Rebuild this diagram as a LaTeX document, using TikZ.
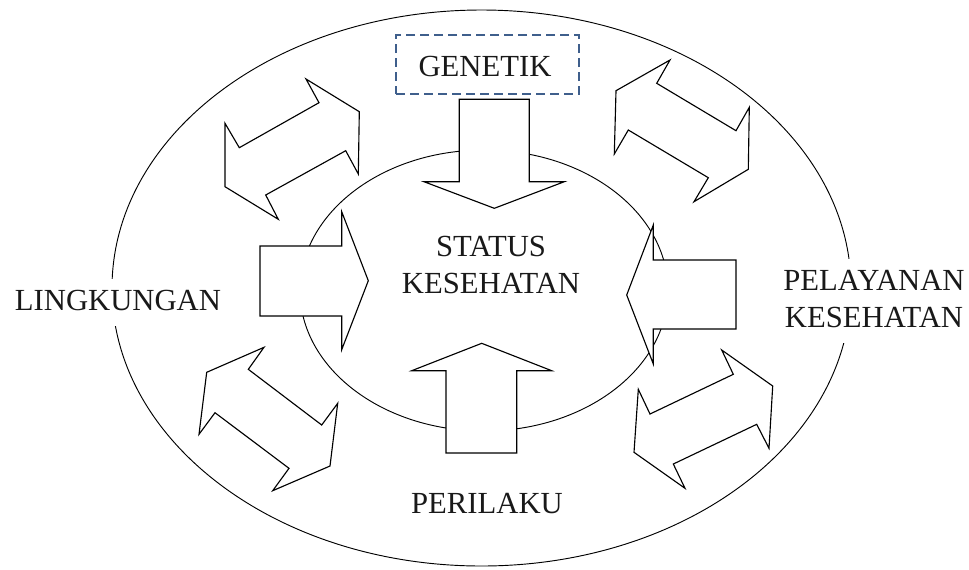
\documentclass[tikz,border=0pt]{standalone}
\usepackage{fontspec}
\setmainfont{Liberation Serif}
\definecolor{boxblue}{HTML}{3F5F8C}
\begin{document}
\begin{tikzpicture}[x=0.75pt,y=-0.75pt,
  ring/.style={draw=black, line width=0.7pt},
  blockarrow/.style={draw=black, fill=white, line width=0.85pt, line join=miter},
  lbl/.style={font=\fontsize{23}{27}\selectfont, anchor=base, inner sep=0pt, text=black!90},
  wlbl/.style={lbl, fill=white, inner xsep=3pt, inner ysep=6pt, text height=17pt, text depth=6pt},
  genbox/.style={draw=boxblue, line width=1.3pt, dash pattern=on 6.5pt off 4pt, minimum width=137.25pt, minimum height=44.25pt, inner sep=0pt}
]
\useasboundingbox (0,0) rectangle (969,569);
% ellipses
\draw[ring] (481.5,288) ellipse [x radius=277.125pt, y radius=208.5pt];
\draw[ring] (484,290.5) ellipse [x radius=138pt, y radius=105.375pt];
% genetik box
\node[genbox] (genbox) at (487.5,64.6) {};
\node[lbl] (genetik) at (485,76) {GENETIK};
% straight block arrows
\draw[blockarrow] (459.3,99.3) -- (529.3,99.3) -- (529.3,181.7) -- (564.3,181.7) -- (494.3,208.3) -- (424,181.7) -- (459.3,181.7) -- cycle;
\draw[blockarrow] (446,453) -- (446,370.7) -- (411.7,370.7) -- (481.7,343.3) -- (551.7,370.7) -- (516.7,370.7) -- (516.7,453) -- cycle;
\draw[blockarrow] (260,246) -- (341.7,246) -- (341.7,211.7) -- (368.3,280.7) -- (341.7,349.7) -- (341.7,316) -- (260,316) -- cycle;
\draw[blockarrow] (736,260) -- (653.3,260) -- (653.3,225) -- (626.7,295) -- (653.3,364) -- (653.3,329) -- (736,329) -- cycle;
% double arrows
\draw[blockarrow] (306,79) -- (359.3,111.7) -- (358.3,174) -- (345.7,150.7) -- (265.7,195) -- (278.3,219.3) -- (225,186.7) -- (225,123.3) -- (239.3,147.7) -- (319,102.7) -- cycle;
\draw[blockarrow] (670,60) -- (656.7,83.3) -- (736,130.7) -- (749.3,107.3) -- (748.3,169.3) -- (694,201.7) -- (708.3,177.7) -- (628.3,130) -- (614.3,154) -- (616,90.7) -- cycle;
\draw[blockarrow] (264,347.3) -- (206.7,372.3) -- (199,434.3) -- (215,412.7) -- (289,468.3) -- (272.7,490.7) -- (330,466) -- (337.7,403.3) -- (321.7,425) -- (248.3,369.3) -- cycle;
\draw[blockarrow] (721.7,350) -- (772.7,386) -- (769,448.3) -- (756.7,424.3) -- (673.3,464) -- (685,488.3) -- (634,452.3) -- (638.3,389.3) -- (650,414) -- (733.3,374.3) -- cycle;
% labels
\node[lbl] (status) at (491,256) {STATUS};
\node[lbl] (kesehatan) at (491,293) {KESEHATAN};
\node[lbl] (perilaku) at (487,513) {PERILAKU};
\node[wlbl] (ling) at (118,310) {LINGKUNGAN};
\node[wlbl] (pel) at (874,290) {PELAYANAN};
\node[wlbl] (pelkes) at (874,327) {KESEHATAN};
\end{tikzpicture}
\end{document}
